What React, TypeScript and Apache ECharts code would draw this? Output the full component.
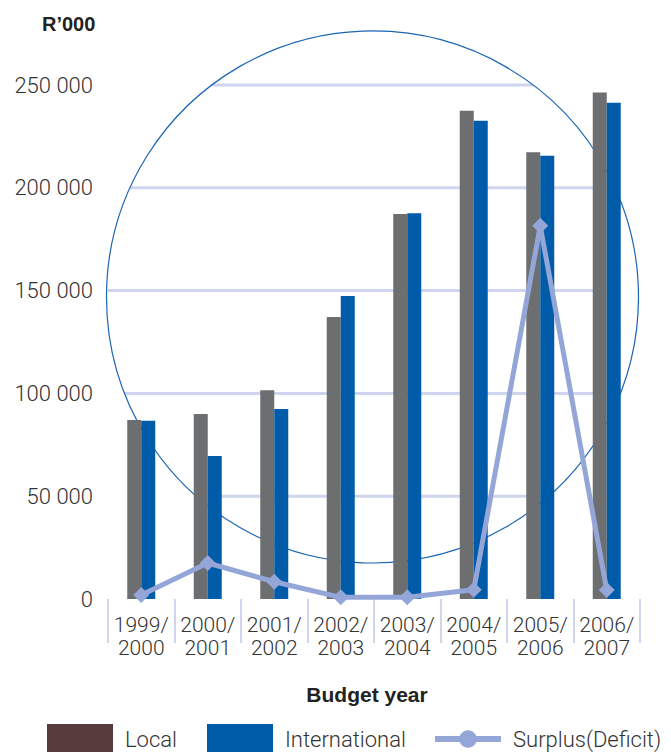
import React, { useEffect, useRef } from "react";
import * as echarts from "echarts";

const categories = ["1999/\n2000", "2000/\n2001", "2001/\n2002", "2002/\n2003", "2003/\n2004", "2004/\n2005", "2005/\n2006", "2006/\n2007"];
const localValues = [87100, 90000, 101500, 137200, 187300, 237500, 217300, 246300];
const internationalValues = [86700, 69600, 92400, 147400, 187600, 232600, 215600, 241400];
const surplusValues = [2000, 17500, 8400, 800, 800, 4500, 181500, 4400];
const yTicks = [0, 50000, 100000, 150000, 200000, 250000];

const FONT = "Roboto, 'Liberation Sans', sans-serif";
const BOLD_FONT = "'Liberation Sans', Arial, sans-serif";
const GRAY = "#6d6e70";
const BROWN = "#553b3b";
const BLUE = "#005ca9";
const LINE = "#94a6d7";
const GRID = "#cfd5ee";

const W = 671;
const H = 752;
const GRID_LEFT = 108;
const GRID_RIGHT = 31;
const GRID_TOP = 85;
const GRID_BOTTOM = 153;
const CIRCLE = { cx: 372.5, cy: 297, r: 266 };

export default function App() {
  const ref = useRef<HTMLDivElement>(null);
  useEffect(() => {
    document.body.style.margin = "0";
    const el = ref.current;
    if (!el) return;
    const chart = echarts.init(el, null, { renderer: "svg" });
    const legendText = { fontFamily: FONT, fontSize: 22, fontWeight: 300, color: "#333", padding: [0, 0, 0, 7] };
    chart.setOption({
      animation: false,
      title: {
        text: "R\u2019000",
        left: 37,
        top: 9,
        textStyle: { fontFamily: BOLD_FONT, fontSize: 20, fontWeight: "bold", color: "#222" },
      },
      grid: { left: GRID_LEFT, right: GRID_RIGHT, top: GRID_TOP, bottom: GRID_BOTTOM, containLabel: false },
      legend: [
        { left: 47, top: 724, padding: 0, itemWidth: 66, itemHeight: 30, icon: "rect", data: ["Local"], textStyle: legendText, selectedMode: false },
        { left: 207, top: 724, padding: 0, itemWidth: 66, itemHeight: 30, icon: "rect", data: ["International"], textStyle: legendText, selectedMode: false },
        { left: 432, top: 728, padding: 0, itemWidth: 66, itemHeight: 22, data: ["Surplus(Deficit)"], textStyle: legendText, selectedMode: false, lineStyle: { width: 6 } },
      ],
      xAxis: {
        type: "category",
        data: categories,
        offset: 13,
        axisLine: { show: false },
        axisTick: { show: true, length: 44, lineStyle: { color: GRID, width: 2 } },
        axisLabel: { interval: 0, margin: 1, fontFamily: FONT, fontSize: 21, fontWeight: 300, lineHeight: 23, color: "#333" },
        name: "Budget year",
        nameLocation: "middle",
        nameGap: 72,
        nameTextStyle: { fontFamily: BOLD_FONT, fontSize: 21, fontWeight: "bold", color: "#222", padding: [0, 14, 0, 0] },
      },
      yAxis: {
        type: "value",
        min: yTicks[0],
        max: yTicks[yTicks.length - 1],
        interval: yTicks[1] - yTicks[0],
        axisLine: { show: false },
        axisTick: { show: false },
        splitLine: { show: false },
        axisLabel: {
          margin: 15,
          fontFamily: FONT,
          fontSize: 22,
          fontWeight: 300,
          color: "#333",
          formatter: (v: number) => (v === 0 ? "0" : `${v / 1000} 000`),
        },
      },
      series: [
        {
          name: "Local",
          type: "bar",
          barWidth: 14,
          barGap: "0%",
          itemStyle: { color: BROWN },
          data: localValues.map((v) => ({ value: v, itemStyle: { color: GRAY } })),
          z: 3,
        },
        {
          name: "International",
          type: "bar",
          barWidth: 14,
          barGap: "0%",
          itemStyle: { color: BLUE },
          data: internationalValues,
          z: 3,
        },
        {
          name: "Surplus(Deficit)",
          type: "line",
          symbol: "circle",
          symbolSize: 16,
          itemStyle: { color: LINE },
          lineStyle: { color: LINE, width: 5 },
          data: surplusValues.map((v) => ({ value: v, symbol: "diamond" })),
          z: 5,
        },
      ],
    });

    const left = GRID_LEFT;
    const right = W - GRID_RIGHT - 20;
    const lines: any[] = [];
    yTicks.filter((t) => t > 0).forEach((t) => {
      const y = chart.convertToPixel({ yAxisIndex: 0 }, t) as number;
      const dy = y - CIRCLE.cy;
      if (Math.abs(dy) >= CIRCLE.r) return;
      const dx = Math.sqrt(CIRCLE.r * CIRCLE.r - dy * dy);
      const x1 = Math.max(left, CIRCLE.cx - dx);
      const x2 = Math.min(right, CIRCLE.cx + dx);
      lines.push({
        type: "line",
        z: 1,
        silent: true,
        shape: { x1, y1: y, x2, y2: y },
        style: { stroke: GRID, lineWidth: 3 },
      });
    });
    chart.setOption({
      graphic: [
        ...lines,
        {
          type: "circle",
          z: 1,
          silent: true,
          shape: { cx: CIRCLE.cx, cy: CIRCLE.cy, r: CIRCLE.r },
          style: { fill: "none", stroke: "#1a64b4", lineWidth: 1.2 },
        },
      ],
    });

    return () => chart.dispose();
  }, []);
  return <div ref={ref} style={{ width: W, height: H }} />;
}
